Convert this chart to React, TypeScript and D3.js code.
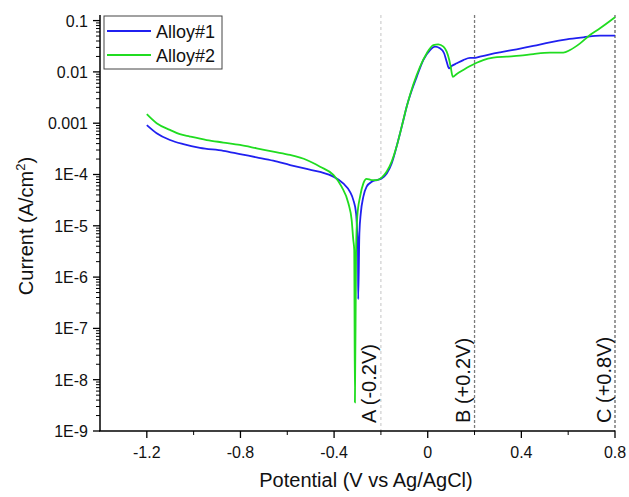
import React from "react";
import * as d3 from "d3";

// Potential (V vs Ag/AgCl) and current density (A/cm^2)
const potentialAlloy1 = [
  -1.2, -1.158, -1.101, -1.044, -0.973, -0.873, -0.802, -0.731, -0.66, -0.588,
  -0.517, -0.46, -0.403, -0.361, -0.332, -0.318, -0.306, -0.301, -0.298, -0.297,
  -0.292, -0.286, -0.275, -0.261, -0.239, -0.218, -0.197, -0.175, -0.154, -0.133,
  -0.118, -0.104, -0.09, -0.068, -0.047, -0.019, 0.01, 0.031, 0.052, 0.07,
  0.081, 0.091, 0.102, 0.124, 0.152, 0.181, 0.202, 0.223, 0.266, 0.309,
  0.38, 0.451, 0.522, 0.594, 0.665, 0.736, 0.8,
];
const currentAlloy1 = [
  9.2e-4, 6.4e-4, 4.7e-4, 3.9e-4, 3.3e-4, 2.9e-4, 2.5e-4, 2.16e-4, 1.86e-4, 1.53e-4,
  1.28e-4, 1.12e-4, 9.1e-5, 6.7e-5, 4.6e-5, 3.2e-5, 1.75e-5, 7.1e-6, 3.4e-6, 3.7e-7,
  7.1e-6, 1.75e-5, 3.7e-5, 5.8e-5, 7.2e-5, 7.8e-5, 8.4e-5, 1.05e-4, 1.65e-4, 3.5e-4,
  6.4e-4, 1.15e-3, 2.1e-3, 4.4e-3, 8.0e-3, 0.017, 0.0267, 0.031, 0.0288, 0.0231,
  0.0158, 0.0117, 0.013, 0.0147, 0.017, 0.0187, 0.0187, 0.0198, 0.022, 0.0241,
  0.0276, 0.032, 0.0378, 0.0432, 0.0472, 0.0508, 0.0508,
];

const potentialAlloy2 = [
  -1.2, -1.158, -1.101, -1.059, -1.016, -0.944, -0.873, -0.802, -0.731, -0.66,
  -0.588, -0.517, -0.46, -0.403, -0.368, -0.339, -0.325, -0.318, -0.314, -0.311,
  -0.306, -0.301, -0.289, -0.275, -0.261, -0.239, -0.218, -0.197, -0.175, -0.154,
  -0.133, -0.118, -0.09, -0.062, -0.033, -0.004, 0.024, 0.045, 0.067, 0.081,
  0.092, 0.098, 0.107, 0.124, 0.152, 0.181, 0.209, 0.237, 0.28, 0.337,
  0.394, 0.451, 0.522, 0.579, 0.608, 0.651, 0.693, 0.736, 0.8,
];
const currentAlloy2 = [
  1.5e-3, 1.0e-3, 7.4e-4, 6.1e-4, 5.5e-4, 4.7e-4, 4.2e-4, 3.76e-4, 3.24e-4, 2.78e-4,
  2.4e-4, 1.92e-4, 1.42e-4, 9.8e-5, 5.8e-5, 2.75e-5, 1.3e-5, 5.3e-6, 3.4e-6, 3.6e-9,
  3.4e-6, 1.5e-5, 3.7e-5, 6.7e-5, 8.2e-5, 7.8e-5, 7.8e-5, 8.7e-5, 1.14e-4, 1.78e-4,
  3.5e-4, 6.4e-4, 2.1e-3, 5.6e-3, 0.0126, 0.0231, 0.0334, 0.0345, 0.031, 0.0248,
  0.017, 0.0126, 8.0e-3, 9.1e-3, 0.0109, 0.013, 0.0151, 0.017, 0.0189, 0.0198,
  0.0207, 0.0223, 0.0237, 0.0237, 0.0267, 0.036, 0.0524, 0.0708, 0.116,
];

const seriesNames = ["Alloy#1", "Alloy#2"];
const seriesColors = ["#2020f0", "#20dc20"];

const xTickValues = [-1.2, -0.8, -0.4, 0, 0.4, 0.8];
const xTickLabels = ["-1.2", "-0.8", "-0.4", "0", "0.4", "0.8"];
const xMinorTickValues = [-1.0, -0.6, -0.2, 0.2, 0.6];
const yTickValues = [1e-9, 1e-8, 1e-7, 1e-6, 1e-5, 1e-4, 0.001, 0.01, 0.1];
const yTickLabels = ["1E-9", "1E-8", "1E-7", "1E-6", "1E-5", "1E-4", "0.001", "0.01", "0.1"];

const markerPotentials = [-0.2, 0.2, 0.8];
const markerLabels = ["A (-0.2V)", "B (+0.2V)", "C (+0.8V)"];
const markerColors = ["#c4c4c4", "#7a7a7a", "#666666"];

const FONT = 'Arial, "Liberation Sans", sans-serif';

export default function App() {
  const width = 629;
  const height = 497;
  const left = 100;
  const right = 615;
  const top = 15;
  const bottom = 431;

  const x = d3.scaleLinear().domain([-1.4, 0.8]).range([left, right]);
  const y = d3
    .scaleLog()
    .domain([1e-9, Math.pow(10, -0.891)])
    .range([bottom, top]);

  const line = d3
    .line<[number, number]>()
    .x((d) => x(d[0]))
    .y((d) => y(d[1]))
    .curve(d3.curveMonotoneX);

  const s1 = potentialAlloy1.map((p, i) => [p, currentAlloy1[i]] as [number, number]);
  const s2 = potentialAlloy2.map((p, i) => [p, currentAlloy2[i]] as [number, number]);

  const yMinor: number[] = [];
  for (let e = -9; e <= -1; e++) {
    for (let k = 2; k <= 9; k++) {
      const v = k * Math.pow(10, e);
      if (v <= y.domain()[1]) yMinor.push(v);
    }
  }

  return (
    <svg
      width={width}
      height={height}
      style={{ position: "absolute", left: 0, top: 0, background: "#fff" }}
      fontFamily={FONT}
    >
      <rect x={0} y={0} width={width} height={height} fill="#fff" />

      {/* marker lines */}
      {markerPotentials.map((p, i) => (
        <line
          key={"m" + i}
          x1={x(p)}
          x2={x(p)}
          y1={top}
          y2={bottom}
          stroke={markerColors[i]}
          strokeWidth={i === 0 ? 1 : 1.3}
          strokeDasharray={i === 0 ? "3,3" : "3,2"}
        />
      ))}
      {markerPotentials.map((p, i) => (
        <text
          key={"mt" + i}
          transform={`translate(${x(p) - 4.5},${bottom - 8}) rotate(-90)`}
          textAnchor="start"
          fontSize={20}
          fill="#111"
        >
          {markerLabels[i]}
        </text>
      ))}

      {/* curves */}
      <path d={line(s1) || ""} fill="none" stroke={seriesColors[0]} strokeWidth={1.8} />
      <path d={line(s2) || ""} fill="none" stroke={seriesColors[1]} strokeWidth={1.8} />

      {/* y axis */}
      <line x1={left} x2={left} y1={top} y2={bottom} stroke="#000" strokeWidth={1.5} />
      {yTickValues.map((v, i) => (
        <g key={"yt" + i}>
          <line x1={left - 7} x2={left} y1={y(v)} y2={y(v)} stroke="#000" strokeWidth={1.3} />
          <text x={88} y={y(v) + 6} textAnchor="end" fontSize={16} fill="#111">
            {yTickLabels[i]}
          </text>
        </g>
      ))}
      {yMinor.map((v, i) => (
        <line key={"ym" + i} x1={left - 4} x2={left} y1={y(v)} y2={y(v)} stroke="#000" strokeWidth={1} />
      ))}

      {/* x axis */}
      <line x1={left - 1} x2={right} y1={bottom} y2={bottom} stroke="#000" strokeWidth={1.5} />
      {xTickValues.map((v, i) => (
        <g key={"xt" + i}>
          <line x1={x(v)} x2={x(v)} y1={bottom} y2={bottom + 7} stroke="#000" strokeWidth={1.3} />
          <text x={x(v)} y={458} textAnchor="middle" fontSize={16} fill="#111">
            {xTickLabels[i]}
          </text>
        </g>
      ))}
      {xMinorTickValues.map((v, i) => (
        <line key={"xm" + i} x1={x(v)} x2={x(v)} y1={bottom} y2={bottom + 4} stroke="#000" strokeWidth={1} />
      ))}

      {/* axis titles */}
      <text x={366} y={487} textAnchor="middle" fontSize={20} fill="#111">
        Potential (V vs Ag/AgCl)
      </text>
      <text transform="translate(33,226) rotate(-90)" textAnchor="middle" fontSize={20} fill="#111">
        Current (A/cm
        <tspan fontSize={13} dy={-8}>2</tspan>
        <tspan dy={8}>)</tspan>
      </text>

      {/* legend */}
      <rect x={104} y={16} width={118} height={53} fill="#fff" stroke="#444" strokeWidth={1} />
      {seriesNames.map((name, i) => (
        <g key={"lg" + i}>
          <line
            x1={107}
            x2={151}
            y1={31 + i * 24}
            y2={31 + i * 24}
            stroke={seriesColors[i]}
            strokeWidth={2}
          />
          <text x={156} y={37.5 + i * 24} fontSize={18} fill="#111">
            {name}
          </text>
        </g>
      ))}
    </svg>
  );
}
